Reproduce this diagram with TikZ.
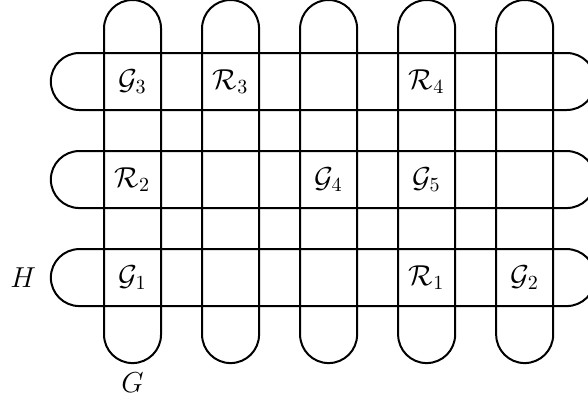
\documentclass[tikz,border=0pt]{standalone}
\usetikzlibrary{positioning}

\tikzstyle{col} = [rectangle,draw,line width=1pt,rounded corners=0.5cm,minimum width=1cm,minimum height=6.37cm]
\tikzstyle{row} = [rectangle,draw,line width=1pt,rounded corners=0.5cm,minimum width=9.55cm,minimum height=1cm]
\tikzstyle{every node}=[font=\Large]

\begin{document}
\begin{tikzpicture}
    \clip (0,0) rectangle (10.316,-7.07);
	% vertical bands
	\foreach \i in {1,...,5}
	{\node[col] (c\i) at ({2.325+1.72*(\i-1)},-3.185) {};}
	% horizontal bands
	\foreach \j in {1,2,3}
	{\node[row] (r\j) at (5.667,{-1.43-1.72*(\j-1)}) {};}
	\node (g3) at (c1 |- r1) {$\mathcal{G}_3$};
	\node (R3) at (c2 |- r1) {$\mathcal{R}_3$};
	\node (R4) at (c4 |- r1) {$\mathcal{R}_4$};
	\node (R2) at (c1 |- r2) {$\mathcal{R}_2$};
	\node (g4) at (c3 |- r2) {$\mathcal{G}_4$};
	\node (g5) at (c4 |- r2) {$\mathcal{G}_5$};
	\node (g1) at (c1 |- r3) {$\mathcal{G}_1$};
	\node (R1) at (c4 |- r3) {$\mathcal{R}_1$};
	\node (g2) at (c5 |- r3) {$\mathcal{G}_2$};
	\node[left=0.12cm of r3] (H) {$H$};
	\node[below=0.03cm of c1] (G) {$G$};
\end{tikzpicture}
\end{document}
